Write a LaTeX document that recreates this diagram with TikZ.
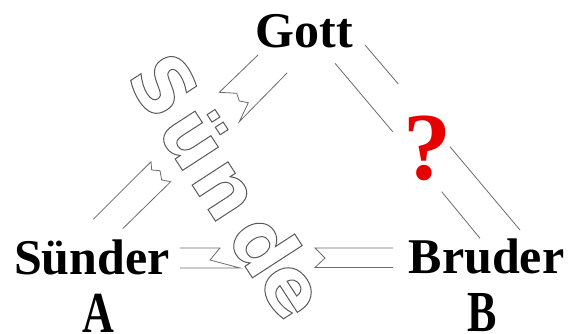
\documentclass[tikz,border=0pt]{standalone}
\usepackage{fontspec}
\setmainfont{Liberation Serif}
\newfontfamily\sundefont{DejaVu Sans}
\definecolor{linegray}{gray}{0.42}
\definecolor{outlinegray}{gray}{0.35}
\definecolor{qred}{RGB}{230,0,0}
\newcommand{\outlined}[1]{\special{pdf:code 1 Tr 1.0 w}#1\special{pdf:code 0 Tr}}
\begin{document}
\begin{tikzpicture}[x=1pt,y=-1pt,
  lbl/.style={font=\fontsize{50}{60}\selectfont\bfseries, anchor=base, inner sep=0pt},
  letterlbl/.style={font=\fontsize{44}{50}\selectfont\bfseries, anchor=base, inner sep=0pt, yscale=1.32},
  brk/.style={draw=linegray, line width=0.8pt, line join=miter},
  sl/.style={font=\fontsize{78}{80}\sundefont\bfseries, text=outlinegray, anchor=base, rotate=-57, inner sep=0pt}]
\useasboundingbox (0,0) rectangle (568,334);
% labels
\node[lbl] (gott) at (304.5,48) {Gott};
\node[lbl] (suender) at (92,274) {Sünder};
\node[lbl] (bruder) at (486.5,273) {Bruder};
\node[letterlbl] (a) at (98.5,332) {A};
\node[letterlbl] (b) at (482.5,331) {B};
\node[font=\fontsize{96}{100}\selectfont\bfseries, text=qred, anchor=base, inner sep=0pt] (q) at (427.5,180) {?};
% Suende outline word
\node[sl] (s1) at (140.2,100.5) {\outlined{S}};
\node[sl] (s2) at (171.0,152.6) {\outlined{ü}};
\node[sl] (s3) at (203.7,202.9) {\outlined{n}};
\node[sl] (s4) at (240.8,259.9) {\outlined{d}};
\node[sl] (s5) at (270.2,302.9) {\outlined{e}};
% left side, upper part
\coordinate (lu1) at (258,55);
\coordinate (lu2) at (219.3,92.3);
\coordinate (lu3) at (239.3,121.7);
\coordinate (lu4) at (287,73);
\draw[brk] (lu1) -- (lu2) -- (236.7,93.3) -- (239.3,101) -- (248.3,102.7) -- (lu3) -- (lu4);
% left side, lower part
\coordinate (ll1) at (93.3,219.3);
\coordinate (ll2) at (151,161.7);
\coordinate (ll3) at (170.7,181.7);
\coordinate (ll4) at (122.7,228.7);
\draw[brk] (ll1) -- (ll2) -- (151.7,170) -- (160,170.7) -- (161.7,180) -- (ll3) -- (ll4);
% bottom, left part
\coordinate (bl1) at (180,248);
\coordinate (bl2) at (220,248);
\coordinate (bl3) at (240,268);
\coordinate (bl4) at (180,268);
\draw[brk] (bl1) -- (bl2) -- (210,260) -- (bl3) -- (bl4);
% bottom, right part
\coordinate (br1) at (393,248);
\coordinate (br2) at (315,248);
\coordinate (br3) at (315,267.5);
\coordinate (br4) at (393,267.5);
\draw[brk] (br1) -- (br2) -- (325,258) -- (br3) -- (br4);
% right side
\coordinate (ra1) at (365,45);
\coordinate (ra2) at (398.3,84);
\coordinate (rb1) at (335,63.3);
\coordinate (rb2) at (392.7,131.7);
\coordinate (rc1) at (450,146.7);
\coordinate (rc2) at (520,230);
\coordinate (rd1) at (441.7,191.7);
\coordinate (rd2) at (480,238.3);
\draw[brk] (ra1) -- (ra2);
\draw[brk] (rb1) -- (rb2);
\draw[brk] (rc1) -- (rc2);
\draw[brk] (rd1) -- (rd2);
\end{tikzpicture}
\end{document}
